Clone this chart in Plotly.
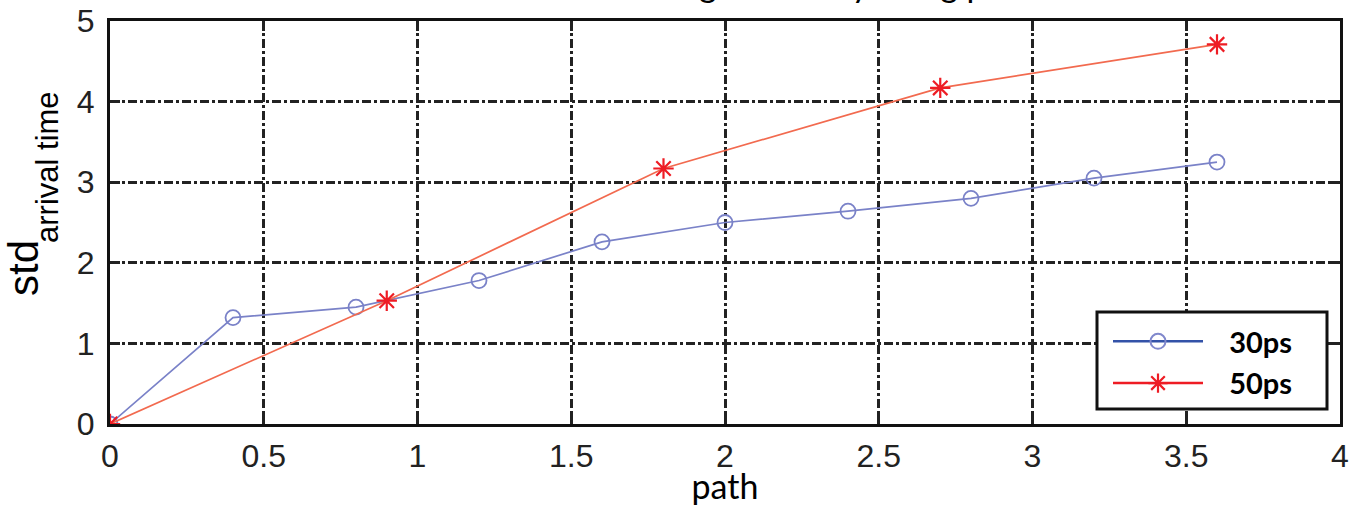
import plotly.graph_objects as go

x30 = [0, 0.4, 0.8, 1.2, 1.6, 2.0, 2.4, 2.8, 3.2, 3.6]
y30 = [0, 1.32, 1.45, 1.78, 2.26, 2.50, 2.64, 2.80, 3.05, 3.25]
x50 = [0, 0.9, 1.8, 2.7, 3.6]
y50 = [0, 1.53, 3.17, 4.17, 4.71]
names = ["30ps", "50ps"]
xticks = [0, 0.5, 1, 1.5, 2, 2.5, 3, 3.5, 4]
yticks = [0, 1, 2, 3, 4, 5]
title_text = "Standard deviation of timing variability along path"
ylabel_main = "std"
ylabel_sub = "arrival time"
xlabel = "path"

pad = "\u00a0\u00a0\u00a0"

W, H = 1353, 506
L, R, T, B = 110, 13, 21, 82
pw, ph = W - L - R, H - T - B


def px_x(p):
    return (p - L) / pw


def px_y(p):
    return (H - B - p) / ph


fig = go.Figure()
# plotted series
fig.add_trace(go.Scatter(
    x=x30, y=y30, name=names[0], mode="lines+markers", showlegend=False,
    line=dict(color="#7a82c8", width=1.7),
    marker=dict(symbol="circle-open", size=15, color="#7a82c8", line=dict(width=1.8, color="#7a82c8")),
))
fig.add_trace(go.Scatter(
    x=x50, y=y50, name=names[1], mode="lines+markers", showlegend=False,
    line=dict(color="#f26a4f", width=1.7),
    marker=dict(symbol="asterisk-open", size=17, color="#ee1c24", line=dict(width=2.2, color="#ee1c24")),
))
# legend entries (legend samples are drawn darker in the reference)
fig.add_trace(go.Scatter(
    x=[None], y=[None], name=pad + names[0], mode="lines+markers", legendgroup="a",
    line=dict(color="#3352a8", width=2.5),
    marker=dict(symbol="circle-open", size=15, color="#8088cc", line=dict(width=2, color="#8088cc")),
))
fig.add_trace(go.Scatter(
    x=[None], y=[None], name=pad + names[1], mode="lines+markers", legendgroup="b",
    line=dict(color="#ee1c24", width=2.5),
    marker=dict(symbol="asterisk-open", size=17, color="#ee1c24", line=dict(width=2.2, color="#ee1c24")),
))

axis_common = dict(
    showline=True, linecolor="#111", linewidth=3, mirror="ticks",
    ticks="inside", ticklen=10, tickwidth=3, tickcolor="#222",
    showgrid=True, gridcolor="#222", gridwidth=2.5, griddash="dashdot",
    zeroline=False, automargin=False,
    tickfont=dict(family="Liberation Sans Narrow, Liberation Sans, Arial", size=32, color="#222"),
)

fig.update_layout(
    width=W, height=H,
    paper_bgcolor="white", plot_bgcolor="white",
    margin=dict(l=L, r=R, t=T, b=B, autoexpand=False),
    showlegend=True,
    legend=dict(
        x=px_x(1108), y=px_y(316), xanchor="left", yanchor="top",
        borderwidth=0, bgcolor="rgba(0,0,0,0)",
        font=dict(family="Lato, Noto Sans, sans-serif", size=29, color="black", weight="bold"),
        itemwidth=90, traceorder="grouped", tracegroupgap=1,
    ),
    xaxis=dict(axis_common, range=[0, 4], tickvals=xticks, ticklabelstandoff=2,
               title=dict(text=xlabel, standoff=0,
                          font=dict(family="Lato, Noto Sans, sans-serif", size=34, color="black"))),
    yaxis=dict(axis_common, range=[0, 5], tickvals=yticks, ticklabelstandoff=6),
)
# legend frame
fig.add_shape(type="rect", xref="paper", yref="paper",
              x0=px_x(1097), x1=px_x(1327), y0=px_y(409), y1=px_y(312),
              line=dict(color="#111", width=3), fillcolor="white", layer="above")
fig.add_annotation(
    text=title_text, xref="paper", yref="paper", x=0.451, y=1.0,
    yshift=15, yanchor="bottom", showarrow=False,
    font=dict(family="Lato, Noto Sans, sans-serif", size=34, color="black"),
)
fig.add_annotation(
    text=ylabel_main, xref="paper", yref="paper", x=px_x(23), y=px_y(268),
    xanchor="center", yanchor="middle", textangle=-90, showarrow=False,
    font=dict(family="Liberation Sans Narrow, Liberation Sans, Arial", size=42, color="black"),
)
fig.add_annotation(
    text=ylabel_sub, xref="paper", yref="paper", x=px_x(47), y=px_y(167),
    xanchor="center", yanchor="middle", textangle=-90, showarrow=False,
    font=dict(family="Liberation Sans Narrow, Liberation Sans, Arial", size=31, color="black"),
)

fig.write_html("out.html", config={"displayModeBar": False},
               post_script="document.body.style.margin='0px';")
